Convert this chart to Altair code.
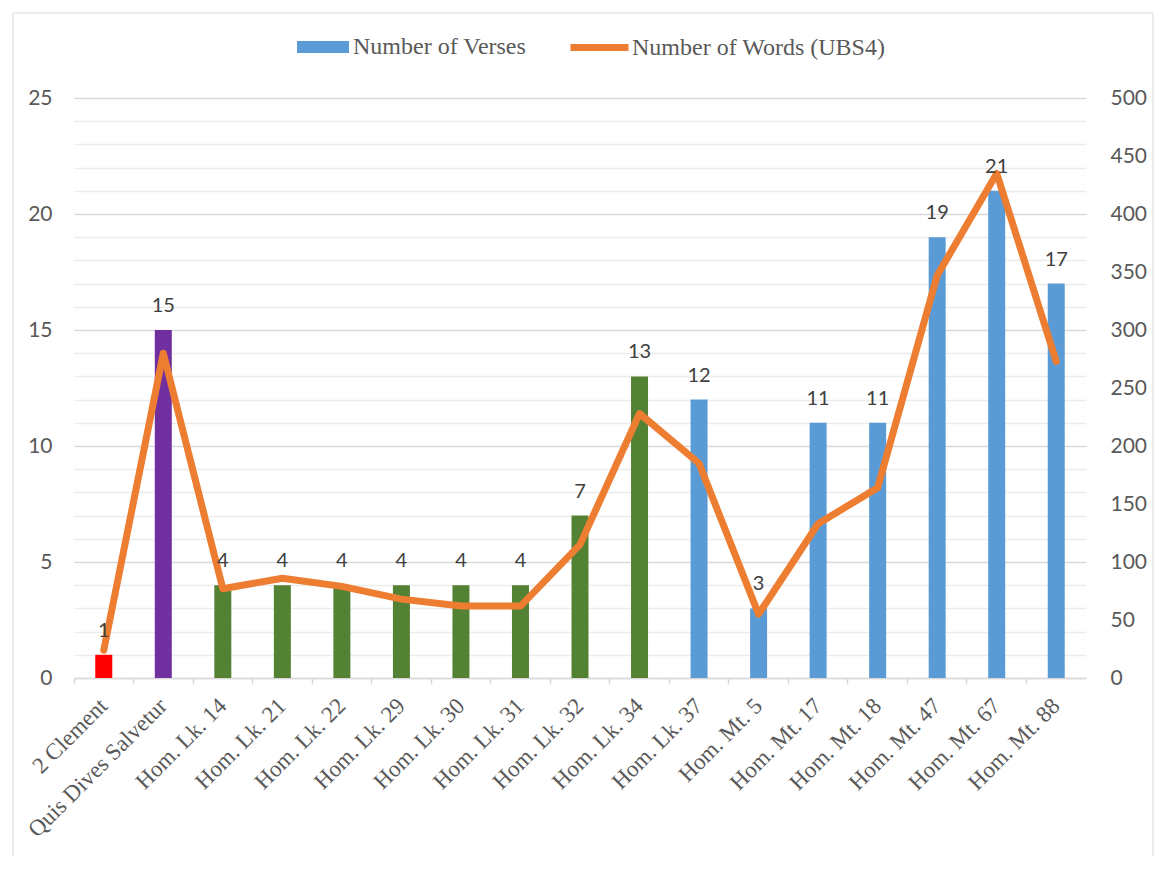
import altair as alt
import pandas as pd

categories = ["2 Clement", "Quis Dives Salvetur", "Hom. Lk. 14", "Hom. Lk. 21",
              "Hom. Lk. 22", "Hom. Lk. 29", "Hom. Lk. 30", "Hom. Lk. 31",
              "Hom. Lk. 32", "Hom. Lk. 34", "Hom. Lk. 37", "Hom. Mt. 5",
              "Hom. Mt. 17", "Hom. Mt. 18", "Hom. Mt. 47", "Hom. Mt. 67",
              "Hom. Mt. 88"]
verses = [1, 15, 4, 4, 4, 4, 4, 4, 7, 13, 12, 3, 11, 11, 19, 21, 17]
words = [24, 280, 77, 86, 79, 68, 62, 62, 115, 228, 185, 55, 133, 164, 347, 435, 273]
groups = ["2 Clement", "Quis Dives Salvetur"] + ["Hom. Lk."] * 8 + ["Number of Verses"] * 7

group_domain = ["Number of Verses", "2 Clement", "Quis Dives Salvetur", "Hom. Lk."]
group_colors = ["#5B9BD5", "#FF0000", "#7030A0", "#548235"]
line_series = "Number of Words (UBS4)"
line_color = "#ED7D31"

left_ticks = list(range(0, 26))
right_ticks = list(range(0, 501, 50))

df = pd.DataFrame({
    "category": categories,
    "verses": verses,
    "words": words,
    "group": groups,
    "series": [line_series] * len(categories),
})

AXIS_FONT = "Lato"
GRAY = "#595959"

x_enc = alt.X(
    "category:N", sort=categories,
    scale=alt.Scale(paddingInner=0, paddingOuter=0),
    axis=alt.Axis(title=None, labelAngle=-45, labelAlign="right", labelBaseline="middle",
                  labelFont="Liberation Serif", labelFontSize=23, labelColor=GRAY,
                  labelPadding=18, bandPosition=0, tickSize=6, tickColor="#d9d9d9",
                  tickWidth=1.5, domainColor="#d9d9d9", domainWidth=1.5, grid=False,
                  labelOverlap=False, labelLimit=0),
)
x_plain = alt.X("category:N", sort=categories)

bars = alt.Chart(df).mark_bar(width=17).encode(
    x=x_enc,
    y=alt.Y("verses:Q", scale=alt.Scale(domain=[0, 25], nice=False),
            axis=alt.Axis(title=None, orient="left", values=left_ticks,
                          labelExpr="datum.value % 5 === 0 ? datum.label : ''",
                          grid=True,
                          gridColor={"condition": {"test": "datum.value % 5 === 0", "value": "#d9d9d9"},
                                     "value": "#ececec"},
                          gridWidth=1.5, ticks=False, domain=False,
                          labelFont=AXIS_FONT, labelFontSize=21, labelColor=GRAY,
                          labelPadding=22, labelOverlap=False)),
    color=alt.Color("group:N", scale=alt.Scale(domain=group_domain, range=group_colors),
                    legend=alt.Legend(title=None, values=["Number of Verses"], orient="none",
                                      legendX=223, legendY=-77, padding=0,
                                      symbolType="M-1,-0.23H1V0.23H-1Z", symbolSize=2704,
                                      symbolStrokeWidth=0, labelLimit=0,
                                      labelFont="Liberation Serif", labelFontSize=24,
                                      labelColor=GRAY, labelOffset=4)),
)

line = alt.Chart(df).mark_line(strokeWidth=7, strokeCap="round", strokeJoin="round").encode(
    x=x_plain,
    y=alt.Y("words:Q", scale=alt.Scale(domain=[0, 500], nice=False),
            axis=alt.Axis(title=None, orient="right", values=right_ticks, grid=False,
                          ticks=False, domain=False, labelFont=AXIS_FONT, labelFontSize=21,
                          labelColor=GRAY, labelPadding=24, labelOverlap=False)),
    color=alt.Color("series:N", scale=alt.Scale(domain=[line_series], range=[line_color]),
                    legend=alt.Legend(title=None, orient="none", legendX=493, legendY=-83,
                                      padding=0, symbolType="stroke", symbolSize=3364,
                                      symbolStrokeWidth=7, labelLimit=0,
                                      labelFont="Liberation Serif", labelFontSize=24,
                                      labelColor=GRAY, labelOffset=0)),
)

labels = alt.Chart(df).mark_text(font=AXIS_FONT, fontSize=20, color="#404040",
                                 baseline="alphabetic", dy=-18).encode(
    x=x_plain,
    y=alt.Y("verses:Q", scale=alt.Scale(domain=[0, 25], nice=False), axis=None),
    text="verses:Q",
)

frame_df = pd.DataFrame({"k": [0]})
frame_left = alt.Chart(frame_df).mark_rule(color="#d9d9d9", strokeWidth=1).encode(
    x=alt.value(-61), y=alt.value(-85), y2=alt.value(758))
frame_top = alt.Chart(frame_df).mark_rule(color="#d9d9d9", strokeWidth=1).encode(
    x=alt.value(-61), x2=alt.value(1079), y=alt.value(-85))
frame_right = alt.Chart(frame_df).mark_rule(color="#d9d9d9", strokeWidth=1).encode(
    x=alt.value(1079), y=alt.value(-85), y2=alt.value(758))

chart = alt.layer(bars, line, labels, frame_left, frame_top, frame_right).resolve_scale(
    y="independent", color="independent"
).properties(
    width=1012, height=580,
    padding={"left": 4, "top": 4, "right": 0, "bottom": 0},
    background="white",
).configure_view(stroke=None)

chart.save("out.html", embed_options={"renderer": "svg", "actions": False})
